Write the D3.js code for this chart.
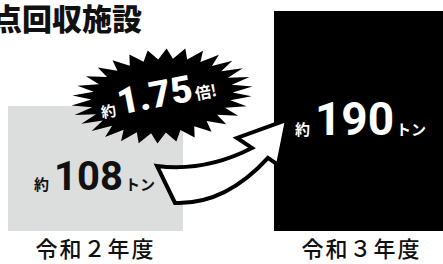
<!DOCTYPE html>
<html>
<head>
<meta charset="utf-8">
<script src="https://cdn.jsdelivr.net/npm/d3@7"></script>
<style>
  html, body { margin: 0; padding: 0; background: #fff; overflow: hidden; }
  text { font-family: "Noto Sans CJK JP", sans-serif; }
</style>
</head>
<body>
<div id="container"></div>
<script>

const titleText = "点回収施設";
const categories = ["令和２年度", "令和３年度"];
const values = [108, 190];
const valuePrefix = "約";
const valueSuffix = "トン";
const ratioParts = ["約", "1.75", "倍!"];

const barColors = ["#dcdddd", "#000000"];
const valueColors = ["#111111", "#ffffff"];
const valueSizes = [40, 46];
const valueDy = [84, 124];

function main() {
    const svgWidth = 443;
    const svgHeight = 264;

    const svg = d3.select("#container")
        .append("svg")
        .attr("width", svgWidth)
        .attr("height", svgHeight);

    const xScale = d3.scaleBand()
        .domain(categories)
        .range([8, 449])
        .paddingInner(0.342)
        .paddingOuter(0);

    const yScale = d3.scaleLinear()
        .domain([0, 190])
        .range([231, 11]);

    const bw = xScale.bandwidth();

    // bars
    svg.selectAll("rect.bar")
        .data(values)
        .join("rect")
        .attr("class", "bar")
        .attr("x", (d, i) => xScale(categories[i]))
        .attr("y", d => yScale(d))
        .attr("width", bw)
        .attr("height", d => yScale(0) - yScale(d))
        .attr("fill", (d, i) => barColors[i]);

    // starburst above the first bar
    const cx = xScale(categories[0]) + bw - 21;
    const cy = yScale(values[0]) - 10;
    const spikes = 30;
    const rot = -6 * Math.PI / 180;
    const burstPts = d3.range(spikes * 2).map(i => {
        const a = i * Math.PI / spikes;
        const r = i % 2 ? 0.78 : 1;
        const px = 91 * r * Math.cos(a);
        const py = 47 * r * Math.sin(a);
        return [cx + px * Math.cos(rot) - py * Math.sin(rot),
                cy + px * Math.sin(rot) + py * Math.cos(rot)];
    });
    svg.append("path")
        .attr("d", d3.line()(burstPts) + "Z")
        .attr("fill", "#000");

    const ratio = svg.append("text")
        .attr("transform", `translate(${cx - 2},${cy + 11}) rotate(-11)`)
        .attr("text-anchor", "middle")
        .attr("fill", "#fff")
        .attr("font-weight", 700);
    ratio.append("tspan").attr("font-size", 15).text(ratioParts[0]);
    ratio.append("tspan").attr("dx", 3).attr("font-size", 37)
        .attr("font-family", "Roboto").attr("font-weight", 900).text(ratioParts[1]);
    ratio.append("tspan").attr("dx", 2).attr("font-size", 16).text(ratioParts[2]);

    // arrow from first bar to second bar
    const ax = xScale(categories[0]) + bw;
    const ay = yScale(values[0]);
    const bx = xScale(categories[1]);
    const arrow = d3.path();
    arrow.moveTo(ax - 26, ay + 60);
    arrow.quadraticCurveTo(ax + 22, ay + 66, bx - 22, ay + 42);
    arrow.lineTo(bx - 37, ay + 32);
    arrow.lineTo(bx + 13, ay + 14);
    arrow.lineTo(bx + 4, ay + 59);
    arrow.lineTo(bx - 6, ay + 52);
    arrow.quadraticCurveTo(ax + 42, ay + 99, ax - 8, ay + 97);
    arrow.closePath();
    svg.append("path")
        .attr("d", arrow.toString())
        .attr("fill", "#fff")
        .attr("stroke", "#000")
        .attr("stroke-width", 4)
        .attr("stroke-linejoin", "miter");

    // value labels
    values.forEach((v, i) => {
        const t = svg.append("text")
            .attr("x", xScale(categories[i]) + bw / 2 - 1)
            .attr("y", yScale(v) + valueDy[i])
            .attr("text-anchor", "middle")
            .attr("fill", valueColors[i])
            .attr("font-weight", 700);
        t.append("tspan").attr("font-size", 15).text(valuePrefix);
        t.append("tspan").attr("dx", 5).attr("font-size", valueSizes[i])
            .attr("font-family", "Roboto").attr("font-weight", 700).text(v);
        t.append("tspan").attr("dx", 2).attr("font-size", 15).text(valueSuffix);
    });

    // category labels
    svg.selectAll("text.cat")
        .data(categories)
        .join("text")
        .attr("class", "cat")
        .attr("x", d => xScale(d) + bw / 2)
        .attr("y", 257)
        .attr("text-anchor", "middle")
        .attr("font-size", 22)
        .attr("font-weight", 500)
        .attr("letter-spacing", 2)
        .attr("fill", "#111")
        .text(d => d);

    // title (cut at the left edge, as in the source)
    svg.append("text")
        .attr("x", -8)
        .attr("y", 30)
        .attr("font-size", 30)
        .attr("font-weight", 900)
        .attr("fill", "#111")
        .text(titleText);
}

main();
</script>
</body>
</html>
